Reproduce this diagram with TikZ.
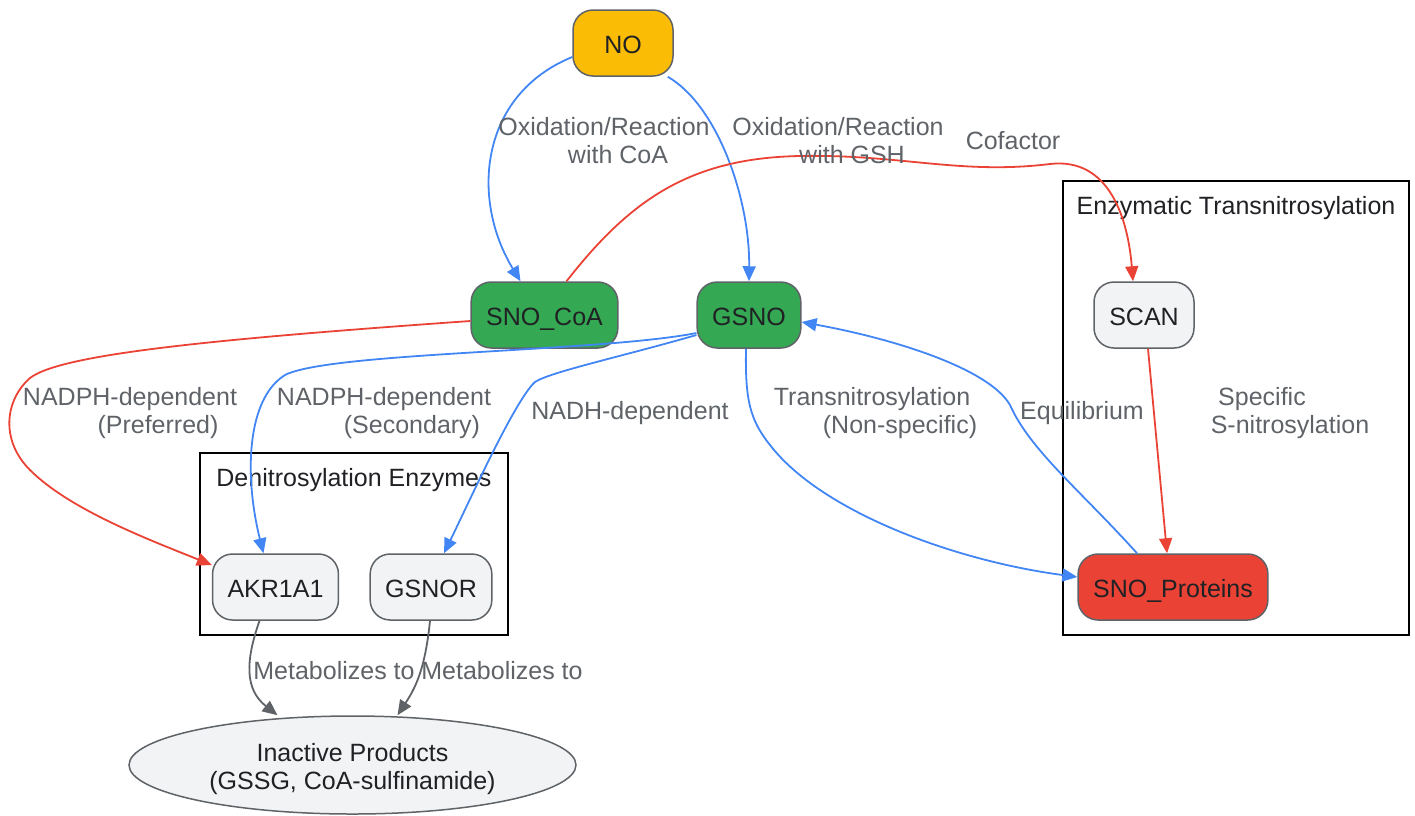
\documentclass[tikz,border=0pt]{standalone}
\usepackage{fontspec}
\setmainfont{Liberation Sans}
\usetikzlibrary{positioning,calc,arrows.meta,shapes.geometric}

\definecolor{gblue}{HTML}{4285F4}
\definecolor{gred}{HTML}{EA4335}
\definecolor{ggreen}{HTML}{34A853}
\definecolor{gyellow}{HTML}{FBBC05}
\definecolor{glight}{HTML}{F1F3F4}
\definecolor{ggrey}{HTML}{5F6368}
\definecolor{gdark}{HTML}{202124}

\begin{document}
\begin{tikzpicture}[x=1pt,y=-1pt,font=\fontsize{25}{28}\selectfont,>={Triangle[length=15pt,width=13pt]}]
    \tikzstyle{every node}=[inner sep=0pt,text=gdark]
    \tikzstyle{box}=[rectangle,rounded corners=20pt,draw=ggrey,line width=1.5pt,minimum width=100pt,minimum height=66pt,inner xsep=15pt,text height=21pt,text depth=0pt]
    \tikzstyle{grp}=[rectangle,draw=black,line width=1.8pt,fill=none]
    \tikzstyle{lbl}=[align=center,text=ggrey]
    \tikzstyle{flow}=[->,line width=1.8pt]
    {
        \useasboundingbox (0,0) rectangle (1415,815);

        % clusters
        \node[grp,minimum width=308pt,minimum height=182pt] (denit) at (354,544) {};
        \node (denitl) at (354,480) {Denitrosylation Enzymes};
        \node[grp,minimum width=346pt,minimum height=454pt] (trans) at (1236,408) {};
        \node (transl) at (1236,208) {Enzymatic Transnitrosylation};

        % nodes
        \node[box,fill=gyellow] (no) at (623,43) {NO};
        \node[box,fill=ggreen] (snocoa) at (544.5,315) {SNO\_CoA};
        \node[box,fill=ggreen] (gsno) at (749,315) {GSNO};
        \node[box,fill=glight] (scan) at (1144,315) {SCAN};
        \node[box,fill=gred] (snop) at (1173,587) {SNO\_Proteins};
        \node[box,fill=glight] (akr) at (275.5,587) {AKR1A1};
        \node[box,fill=glight] (gsnor) at (431,587) {GSNOR};
        \node[ellipse,draw=ggrey,line width=1.5pt,fill=glight,minimum width=447pt,minimum height=98pt] (inact) at (352.5,765) {};
        \node[align=center] (inactl) at (352.5,769) {Inactive Products\\(GSSG, CoA-sulfinamide)};

        % edges
        \draw[flow,gblue] ([yshift=-14pt]no.west) .. controls +(-93,38) and +(-50,-82) .. ([xshift=-24pt]snocoa.north);
        \draw[flow,gblue] (no.-37) .. controls +(50,29) and +(1,-82) .. (gsno.north);
        \draw[flow,gred] ([xshift=22pt]snocoa.north) .. controls (630,200) and (690,158) .. (800,156)
            .. controls (900,154) and (960,175) .. (1050,164)
            .. controls (1110,157) and (1128,220) .. ([xshift=-11pt]scan.north);
        \draw[flow,gred] ([yshift=-6pt]snocoa.west) .. controls (200,340) and (60,355) .. (30,378)
            .. controls (5,400) and (0,440) .. (30,470)
            .. controls (70,510) and (150,540) .. ([yshift=22pt]akr.west);
        \draw[flow,gblue] ([yshift=-18pt]gsno.west) .. controls (600,352) and (330,352) .. (285,375)
            .. controls (245,400) and (245,480) .. ([xshift=-12pt]akr.north);
        \draw[flow,gblue] ([yshift=-20pt]gsno.west) .. controls (620,357) and (550,372) .. (535,382)
            .. controls (515,400) and (470,500) .. ([xshift=13pt]gsnor.north);
        \draw[flow,gblue] ([xshift=-3pt]gsno.south) .. controls (745,400) and (750,420) .. (770,445)
            .. controls (820,510) and (950,560) .. ([yshift=10pt]snop.west);
        \draw[flow,gblue] ([xshift=-36pt]snop.north) .. controls (1080,490) and (1030,450) .. (1010,405)
            .. controls (990,370) and (900,340) .. ([yshift=-7pt]gsno.east);
        \draw[flow,gred] ([xshift=4pt]scan.south) -- ([xshift=-6pt]snop.north);
        \draw[flow,ggrey] ([xshift=-16pt]akr.south) .. controls +(-14,40) and +(-33,-26) .. ([xshift=-75pt]inact.north);
        \draw[flow,ggrey] ([xshift=-1pt]gsnor.south) .. controls +(-5,50) and +(17,-26) .. ([xshift=45pt]inact.north);

        % edge labels
        \node[lbl] (l1) at (604,141) {Oxidation/Reaction\\\hspace*{28pt}with CoA};
        \node[lbl] (l2) at (838,141) {Oxidation/Reaction\\\hspace*{28pt}with GSH};
        \node[lbl] (l3) at (1013,141) {Cofactor};
        \node[lbl] (l4) at (130,413) {NADPH-dependent\\\hspace*{56pt}(Preferred)};
        \node[lbl] (l5) at (384,413) {NADPH-dependent\\\hspace*{56pt}(Secondary)};
        \node[lbl] (l6) at (630,413) {NADH-dependent};
        \node[lbl] (l7) at (872,413) {Transnitrosylation\\\hspace*{56pt}(Non-specific)};
        \node[lbl] (l8) at (1082,413) {Equilibrium};
        \node[lbl] (l9) at (1262,413) {Specific\\\hspace*{56pt}S-nitrosylation};
        \node[lbl] (l10) at (334,671) {Metabolizes to};
        \node[lbl] (l11) at (502,671) {Metabolizes to};
    }
\end{tikzpicture}
\end{document}
